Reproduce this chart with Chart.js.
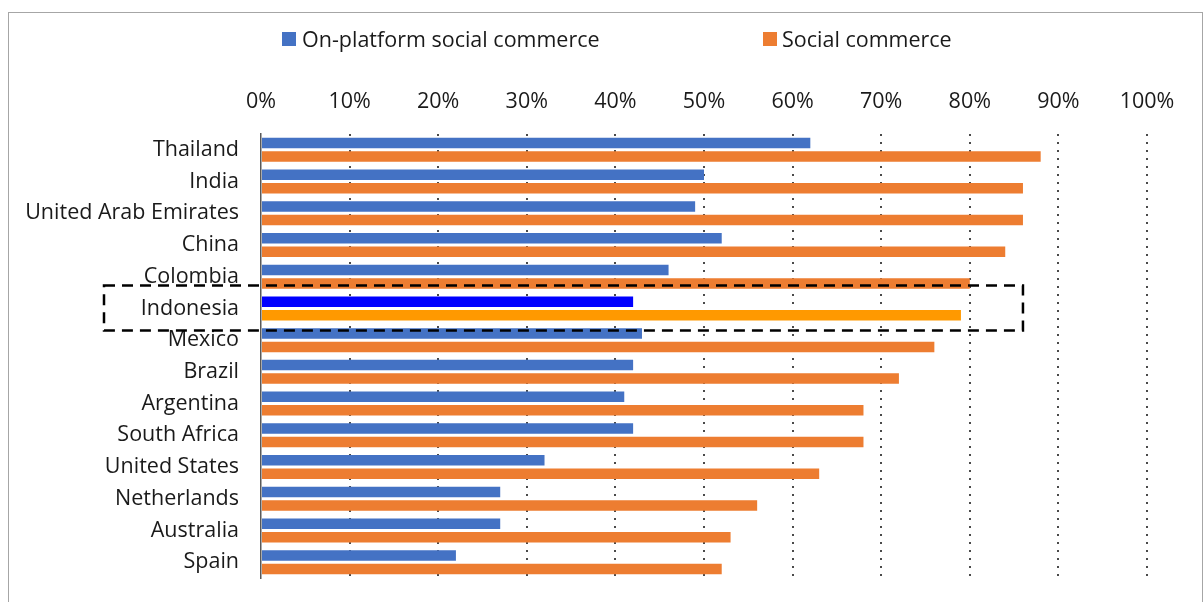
<!DOCTYPE html>
<html>
<head>
<meta charset="utf-8">
<script src="https://cdn.jsdelivr.net/npm/chart.js@4.4.0/dist/chart.umd.min.js"></script>
<style>
  body { margin: 0; background: #fff; font-family: "Open Sans", sans-serif; }
  #wrap { position: relative; width: 1203px; height: 602px; overflow: hidden; }
  #frame { position: absolute; left: 8px; top: 12px; width: 1193px; height: 600px; border: 1px solid #a6a6a6; }
  #chart { position: absolute; left: 0; top: 0; }
  .box { position: absolute; top: 32px; width: 14px; height: 14px; }
  .txt { position: absolute; top: 24px; font-size: 21.5px; line-height: 29px; color: #1a1a1a; white-space: nowrap; }
</style>
</head>
<body>
<div id="wrap">
  <div id="frame"></div>
  <canvas id="chart" width="1203" height="602"></canvas>
  <div id="legend"></div>
</div>
<script>
// data (percent)
var countries = ['Thailand', 'India', 'United Arab Emirates', 'China', 'Colombia', 'Indonesia', 'Mexico',
  'Brazil', 'Argentina', 'South Africa', 'United States', 'Netherlands', 'Australia', 'Spain'];
var seriesNames = ['On-platform social commerce', 'Social commerce'];
var onPlatform = [62, 50, 49, 52, 46, 42, 43, 42, 41, 42, 32, 27, 27, 22];
var socialCommerce = [88, 86, 86, 84, 80, 79, 76, 72, 68, 68, 63, 56, 53, 52];
var xTicks = [0, 10, 20, 30, 40, 50, 60, 70, 80, 90, 100];
var highlight = 'Indonesia';

var blue = '#4472C4', orange = '#ED7D31';
var blueHi = '#0000FF', orangeHi = '#FF9900';

function colorsFor(base, hi) {
  return countries.map(function (c) { return c === highlight ? hi : base; });
}

// legend in html, placed like the original
var legendPos = [{ box: 282, text: 302 }, { box: 763, text: 782 }];
var legendColors = [blue, orange];
var legendEl = document.getElementById('legend');
seriesNames.forEach(function (name, i) {
  var b = document.createElement('div');
  b.className = 'box';
  b.style.left = legendPos[i].box + 'px';
  b.style.background = legendColors[i];
  legendEl.appendChild(b);
  var t = document.createElement('div');
  t.className = 'txt';
  t.style.left = legendPos[i].text + 'px';
  t.textContent = name;
  legendEl.appendChild(t);
});

// dashed box around the highlighted country
var highlightBox = {
  id: 'highlightBox',
  afterDatasetsDraw: function (chart) {
    var ctx = chart.ctx;
    var y = chart.scales.y, x = chart.scales.x;
    var yc = y.getPixelForValue(countries.indexOf(highlight));
    var top = yc - 23, bottom = yc + 22;
    var left = 104, right = x.getPixelForValue(86);
    ctx.save();
    ctx.strokeStyle = '#000';
    ctx.lineWidth = 2.5;
    ctx.setLineDash([11, 7]);
    ctx.strokeRect(left, top, right - left, bottom - top);
    ctx.restore();
  }
};

var ctx = document.getElementById('chart').getContext('2d');
var chart = new Chart(ctx, {
  type: 'bar',
  data: {
    labels: countries,
    datasets: [{
      label: seriesNames[0],
      data: onPlatform,
      backgroundColor: colorsFor(blue, blueHi)
    }, {
      label: seriesNames[1],
      data: socialCommerce,
      backgroundColor: colorsFor(orange, orangeHi)
    }]
  },
  options: {
    indexAxis: 'y',
    responsive: false,
    animation: false,
    categoryPercentage: 0.85,
    barPercentage: 0.78,
    layout: { padding: { top: 70, right: 56, bottom: 24, left: 0 } },
    plugins: {
      legend: { display: false },
      tooltip: { enabled: false }
    },
    scales: {
      x: {
        position: 'top',
        min: 0,
        max: 100,
        afterFit: function (s) { s.height = 64; s.paddingLeft = 0; s.paddingRight = 0; },
        afterBuildTicks: function (s) { s.ticks = xTicks.map(function (v) { return { value: v }; }); },
        ticks: {
          padding: 19,
          color: '#1a1a1a',
          font: { family: 'Open Sans', size: 21.5 },
          callback: function (v) { return v + '%'; }
        },
        grid: {
          drawTicks: false,
          lineWidth: 2,
          color: function (c) { return c.tick && c.tick.value === 0 ? 'rgba(0,0,0,0)' : '#4a4a4a'; }
        },
        border: { display: false, dash: [2, 6] }
      },
      y: {
        afterFit: function (s) { s.width = 261; s.paddingTop = 0; s.paddingBottom = 0; },
        ticks: {
          padding: 22,
          color: '#1a1a1a',
          font: { family: 'Open Sans', size: 21.5 }
        },
        grid: { display: false, drawTicks: false },
        border: { display: true, color: '#595959', width: 1.5 }
      }
    }
  },
  plugins: [highlightBox]
});
</script>
</body>
</html>
